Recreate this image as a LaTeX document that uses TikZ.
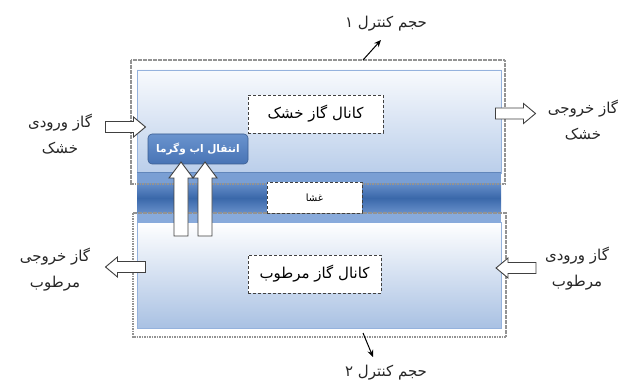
\documentclass[tikz,border=0pt]{standalone}
\usepackage{fontspec}
\newfontfamily\arabicfont[Script=Arabic]{DejaVu Sans}
\TeXXeTstate=1
\usetikzlibrary{arrows.meta}

\definecolor{chanTop}{HTML}{F8FAFD}
\definecolor{chanBot}{HTML}{BACEEA}
\definecolor{chanBotB}{HTML}{A9C1E3}
\definecolor{chanEdge}{HTML}{95B2DD}
\definecolor{bandLight}{HTML}{7A9FD4}
\definecolor{bandDark}{HTML}{3A68AA}
\definecolor{bandMid}{HTML}{678FCA}
\definecolor{bandLow}{HTML}{88AADB}
\definecolor{xferTop}{HTML}{6A93CE}
\definecolor{xferBot}{HTML}{4874B5}

\tikzset{
  cvbox/.style={draw=gray!85, line width=1.1pt, dash pattern=on 1.6pt off 0.9pt},
  namebox/.style={draw=black!75, fill=white, line width=0.9pt,
    dash pattern=on 3pt off 2pt, inner sep=0pt},
  lbl/.style={font=\arabicfont\fontsize{15}{26}\selectfont, text=black!85, align=center},
  pointer/.style={-{Stealth[length=7pt,width=6pt]}, line width=1pt, black},
  flowarrow/.pic={
    \draw[fill=white, draw=black!75, line width=0.9pt]
      (-20,-5.5) -- (8,-5.5) -- (8,-10) -- (20,0) -- (8,10) -- (8,5.5) -- (-20,5.5) -- cycle;},
  liftarrow/.pic={
    \draw[fill=white, draw=black!75, line width=0.9pt]
      (-37,-7) -- (21,-7) -- (21,-12) -- (37,0) -- (21,12) -- (21,7) -- (-37,7) -- cycle;},
}

\begin{document}
\begin{tikzpicture}[x=1pt,y=-1pt]
\useasboundingbox (0,0) rectangle (640,385);

% gas channels
\shade[top color=chanTop, bottom color=chanBot] (137,70) rectangle (501,173);
\draw[chanEdge, line width=0.8pt] (137,70) rectangle (501,173);
\shade[top color=white, bottom color=chanBotB] (137,222) rectangle (501,328);
\draw[chanEdge, line width=0.8pt] (137,222) rectangle (501,328);

% membrane band
\fill[bandLight] (137,172) rectangle (501,183);
\shade[top color=bandMid, bottom color=bandMid, middle color=bandDark] (137,183) rectangle (501,213);
\fill[bandLow] (137,213) rectangle (501,223);
\draw[bandDark!80, line width=0.6pt] (137,172.5) -- (501,172.5);

% control volumes
\draw[cvbox] (131,60) rectangle (505,184);
\draw[cvbox] (133,213) rectangle (506,337);

% channel and membrane names
\node[namebox, minimum width=135pt, minimum height=38pt] (dry) at (315.5,114)
  {\arabicfont\fontsize{15}{18}\selectfont\beginR کانال گاز خشک\endR};
\node[namebox, minimum width=133pt, minimum height=38pt] (wet) at (314.5,274)
  {\arabicfont\fontsize{15}{18}\selectfont\beginR کانال گاز مرطوب\endR};
\node[namebox, minimum width=95pt, minimum height=31pt] (mem) at (314.5,197.5)
  {\arabicfont\fontsize{10}{12}\selectfont\beginR غشا\endR};

% water and heat transfer
\node[rounded corners=4pt, draw=xferBot!80!black, line width=0.6pt,
  top color=xferTop, bottom color=xferBot, minimum width=100pt, minimum height=30pt,
  text=white, inner sep=0pt] (xfer) at (198,149)
  {\arabicfont\bfseries\fontsize{10.5}{12}\selectfont\beginR انتقال اب وگرما\endR};

\pic at (181,199) [rotate=90] {liftarrow};
\pic at (205,199) [rotate=90] {liftarrow};

% gas streams
\pic at (125.5,127) {flowarrow};
\pic at (515.5,113.5) {flowarrow};
\pic at (125.5,267) [rotate=180] {flowarrow};
\pic at (516,268) [rotate=180] {flowarrow};

\node[lbl] (dryin) at (60,134) {\beginR گاز ورودی\endR\\\beginR خشک\endR};
\node[lbl] (dryout) at (583,120.5) {\beginR گاز خروجی\endR\\\beginR خشک\endR};
\node[lbl] (wetout) at (55,270) {\beginR گاز خروجی\endR\\\beginR مرطوب\endR};
\node[lbl] (wetin) at (577,269) {\beginR گاز ورودی\endR\\\beginR مرطوب\endR};

% control volume labels
\node[lbl] (cv1) at (386,24) {\beginR حجم کنترل ۱\endR};
\node[lbl] (cv2) at (386,373) {\beginR حجم کنترل ۲\endR};
\coordinate (cv1foot) at (363,60);
\coordinate (cv1tip) at (381,40);
\coordinate (cv2foot) at (363,333);
\coordinate (cv2tip) at (373,357);
\draw[pointer] (cv1foot) -- (cv1tip);
\draw[pointer] (cv2foot) -- (cv2tip);
\end{tikzpicture}
\end{document}
